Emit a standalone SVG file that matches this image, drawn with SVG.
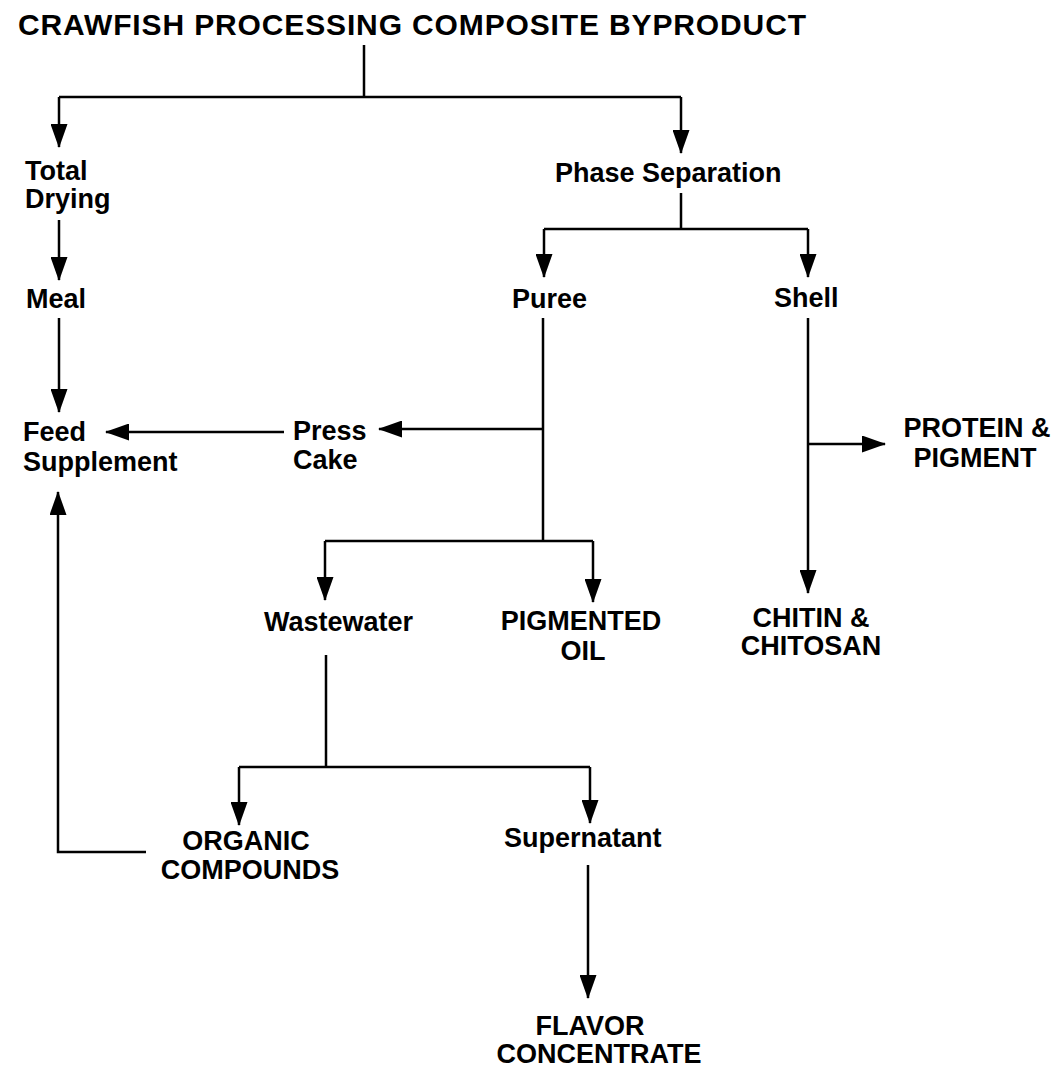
<svg xmlns="http://www.w3.org/2000/svg" width="1061" height="1070" viewBox="0 0 1061 1070">
<defs>
<style>
text{font-family:"Liberation Sans",Arial,sans-serif;font-weight:bold;font-size:27px;fill:#000}
.title{font-size:30px}
.c{text-anchor:middle}
.ln{fill:none;stroke:#000;stroke-width:2.5}
.ar{marker-end:url(#ah)}
</style>
<marker id="ah" markerUnits="userSpaceOnUse" markerWidth="24" markerHeight="17" refX="23" refY="8.5" orient="auto" viewBox="0 0 24 17">
<path d="M0,0 L24,8.5 L0,17 Z" fill="#000"/>
</marker>
</defs>
<rect width="1061" height="1070" fill="#fff"/>
<g id="title"><text class="title" x="18" y="35" textLength="788" lengthAdjust="spacing">CRAWFISH PROCESSING COMPOSITE BYPRODUCT</text></g>
<g id="total-drying"><text x="25" y="180">Total</text><text x="25" y="208">Drying</text></g>
<g id="phase-separation"><text x="555" y="182">Phase Separation</text></g>
<g id="meal"><text x="26" y="308">Meal</text></g>
<g id="puree"><text x="512" y="308">Puree</text></g>
<g id="shell"><text x="774" y="307">Shell</text></g>
<g id="feed-supplement"><text x="23" y="441">Feed</text><text x="23" y="471">Supplement</text></g>
<g id="press-cake"><text x="293" y="440">Press</text><text x="293" y="469">Cake</text></g>
<g id="protein-pigment"><text class="c" x="977" y="437">PROTEIN &amp;</text><text class="c" x="975" y="467">PIGMENT</text></g>
<g id="wastewater"><text x="264" y="631">Wastewater</text></g>
<g id="pigmented-oil"><text class="c" x="581" y="630">PIGMENTED</text><text class="c" x="583" y="660">OIL</text></g>
<g id="chitin-chitosan"><text class="c" x="811" y="627">CHITIN &amp;</text><text class="c" x="811" y="655">CHITOSAN</text></g>
<g id="organic-compounds"><text class="c" x="246" y="850">ORGANIC</text><text class="c" x="250" y="879">COMPOUNDS</text></g>
<g id="supernatant"><text x="504" y="847">Supernatant</text></g>
<g id="flavor-concentrate"><text class="c" x="590" y="1035">FLAVOR</text><text class="c" x="599" y="1063">CONCENTRATE</text></g>
<g id="connectors">
<path class="ln" d="M364,45 V97 M59,97 H681"/>
<path class="ln ar" d="M59,97 V147"/>
<path class="ln ar" d="M681,97 V153"/>
<path class="ln" d="M681,193 V229 M544,229 H808"/>
<path class="ln ar" d="M544,229 V277"/>
<path class="ln ar" d="M808,229 V277"/>
<path class="ln ar" d="M59,220 V280"/>
<path class="ln ar" d="M59,318 V412"/>
<path class="ln" d="M543,318 V541 M325,541 H593"/>
<path class="ln ar" d="M543,429 H379"/>
<path class="ln ar" d="M325,541 V600"/>
<path class="ln ar" d="M593,541 V602"/>
<path class="ln ar" d="M284,432 H106"/>
<path class="ln ar" d="M808,318 V593"/>
<path class="ln ar" d="M808,444 H885"/>
<path class="ln" d="M326,655 V767 M239,767 H590"/>
<path class="ln ar" d="M239,767 V825"/>
<path class="ln ar" d="M590,767 V823"/>
<path class="ln ar" d="M146,852 H58 V492"/>
<path class="ln ar" d="M588,865 V998"/>
</g>
</svg>
